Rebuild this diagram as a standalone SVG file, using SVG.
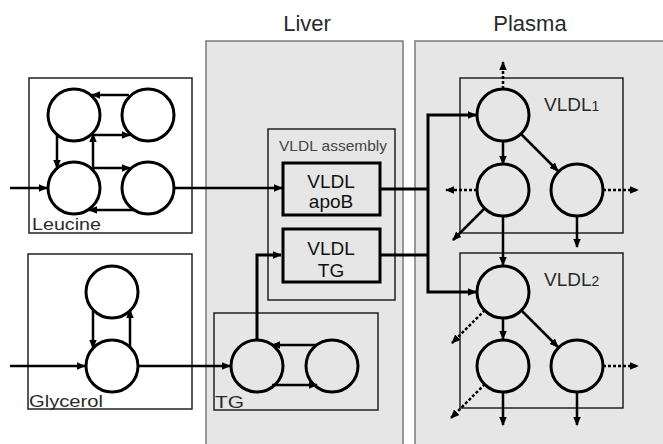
<svg xmlns="http://www.w3.org/2000/svg" width="663" height="444" viewBox="0 0 663 444">
<defs>
<marker id="ah" viewBox="0 0 10 10" refX="9" refY="5" markerWidth="9" markerHeight="9" markerUnits="userSpaceOnUse" orient="auto">
<path d="M0,0.8 L10,5 L0,9.2 z" fill="#000"/>
</marker>
</defs>
<style>
.panel{fill:#e6e6e6;stroke:#7a7a7a;stroke-width:1.5}
.box{fill:none;stroke:#222;stroke-width:1.5}
.wbox{fill:#fff;stroke:#222;stroke-width:1.5}
.tbox{fill:none;stroke:#000;stroke-width:3}
.c{fill:none;stroke:#000;stroke-width:3}
.l{fill:none;stroke:#000;stroke-width:2.5;marker-end:url(#ah)}
.lt{fill:none;stroke:#000;stroke-width:3}
.ltm{fill:none;stroke:#000;stroke-width:3;marker-end:url(#ah)}
.d{fill:none;stroke:#000;stroke-width:2.5;stroke-dasharray:3 2;marker-end:url(#ah)}
text{font-family:"Liberation Sans",Arial,sans-serif;fill:#2a2a2a}
.t{font-size:22px;text-anchor:middle}
.lab{font-size:16.5px}
.bt{font-size:19px;text-anchor:middle;fill:#111}
.sm{font-size:15px;fill:#444}
</style>
<rect width="663" height="444" fill="#fff"/>
<g id="liver">
<rect class="panel" x="206" y="41" width="197" height="406"/>
<text class="t" x="307" y="31">Liver</text>
</g>
<g id="plasma">
<rect class="panel" x="415" y="41" width="252" height="406"/>
<text class="t" x="530" y="31">Plasma</text>
</g>
<g id="leucine">
<rect class="wbox" x="29" y="78" width="163" height="155"/>
<circle class="c" cx="74" cy="115" r="26"/>
<circle class="c" cx="148" cy="115" r="26"/>
<circle class="c" cx="74" cy="188" r="26"/>
<circle class="c" cx="148" cy="188" r="26"/>
<text class="lab" x="32" y="230" textLength="69" lengthAdjust="spacingAndGlyphs">Leucine</text>
</g>
<g id="glycerol">
<rect class="wbox" x="28" y="254" width="164" height="155"/>
<circle class="c" cx="112" cy="292" r="26"/>
<circle class="c" cx="112" cy="366" r="26"/>
<text class="lab" x="29" y="407" textLength="74" lengthAdjust="spacingAndGlyphs">Glycerol</text>
</g>
<g id="vldl-assembly">
<rect class="box" x="268" y="129" width="127" height="171"/>
<text class="sm" x="279" y="151" textLength="108" lengthAdjust="spacingAndGlyphs">VLDL assembly</text>
</g>
<g id="vldl-apob">
<rect class="tbox" x="283" y="163" width="97" height="52"/>
<text class="bt" x="331" y="188">VLDL</text>
<text class="bt" x="331" y="208">apoB</text>
</g>
<g id="vldl-tg">
<rect class="tbox" x="283" y="229" width="97" height="53"/>
<text class="bt" x="331" y="255">VLDL</text>
<text class="bt" x="331" y="277">TG</text>
</g>
<g id="tg">
<rect class="box" x="214" y="313" width="164" height="97"/>
<circle class="c" cx="257" cy="366" r="26"/>
<circle class="c" cx="332" cy="366" r="26"/>
<text class="lab" x="215" y="408" font-size="18" textLength="29" lengthAdjust="spacingAndGlyphs">TG</text>
</g>
<g id="vldl1">
<rect class="box" x="460" y="78" width="163" height="155"/>
<circle class="c" cx="503" cy="115" r="26"/>
<circle class="c" cx="503" cy="190" r="26"/>
<circle class="c" cx="577" cy="190" r="26"/>
<text x="544" y="111" font-size="19">VLDL<tspan font-size="14">1</tspan></text>
</g>
<g id="vldl2">
<rect class="box" x="460" y="253" width="163" height="155"/>
<circle class="c" cx="503" cy="292" r="26"/>
<circle class="c" cx="503" cy="366" r="26"/>
<circle class="c" cx="577" cy="366" r="26"/>
<text x="544" y="286" font-size="19">VLDL<tspan font-size="14">2</tspan></text>
</g>
<g id="connectors">
<path class="l" d="M10,188 L47,188"/>
<path class="l" d="M129,95 L92,95"/>
<path class="l" d="M93,135 L130,135"/>
<path class="l" d="M93,170 L93,134"/>
<path class="l" d="M57,135 L57,168"/>
<path class="l" d="M93,168 L130,168"/>
<path class="l" d="M134,210 L89,210"/>
<path class="l" d="M174,188 L282,188"/>
<path class="l" d="M10,366 L85,366"/>
<path class="l" d="M93,310 L93,348"/>
<path class="l" d="M130,347 L130,310"/>
<path class="l" d="M138,366 L230,366"/>
<path class="l" d="M317,345 L272,345"/>
<path class="l" d="M272,385 L317,385"/>
<path class="ltm" d="M257,340 L257,255 L281,255"/>
<path class="lt" d="M380,189 L428,189"/>
<path class="lt" d="M380,255 L428,255"/>
<path class="ltm" d="M428,200 L428,115 L476,115"/>
<path class="ltm" d="M428,200 L428,292 L476,292"/>
<path class="d" d="M503,89 L503,62"/>
<path class="l" d="M503,141 L503,164"/>
<path class="l" d="M521,134 L558,171"/>
<path class="d" d="M477,190 L446,190"/>
<path class="l" d="M485,208 L453,240"/>
<path class="l" d="M503,216 L503,265"/>
<path class="d" d="M603,190 L638,190"/>
<path class="l" d="M577,216 L577,247"/>
<path class="d" d="M485,310 L452,343"/>
<path class="l" d="M503,318 L503,339"/>
<path class="l" d="M521,310 L558,347"/>
<path class="d" d="M485,384 L451,418"/>
<path class="l" d="M503,392 L503,425"/>
<path class="l" d="M577,392 L577,425"/>
<path class="d" d="M603,366 L638,366"/>
</g>
</svg>
